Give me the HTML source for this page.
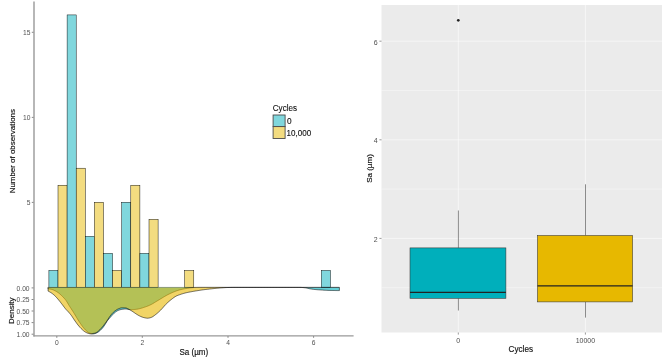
<!DOCTYPE html>
<html><head><meta charset="utf-8"><title>Sa histogram, density and boxplot</title>
<style>
html,body{margin:0;padding:0;background:#fff;}
body{width:667px;height:358px;overflow:hidden;}
svg{display:block;font-family:"Liberation Sans",Arial,sans-serif;}
.bc{fill:#80D7DD;stroke:#000;stroke-width:.45;}
.by{fill:#F3DC80;stroke:#000;stroke-width:.45;}
.dc{fill:#00AFBB;fill-opacity:.6;stroke:#000;stroke-width:.55;stroke-linejoin:round;}
.dy{fill:#E7B800;fill-opacity:.6;stroke:#000;stroke-width:.55;stroke-linejoin:round;}
.kk{stroke:#4a4a4a;stroke-width:.9;}
.ds{fill:none;stroke:#000;stroke-width:.55;stroke-linejoin:round;}
.ax{stroke:#8c8c8c;stroke-width:1.25;fill:none;}
.tk{stroke:#555;stroke-width:.7;}
.tk2{stroke:#555;stroke-width:.6;}
.tl{font-size:6.7px;fill:#505050;}
.tr{font-size:7px;fill:#4d4d4d;}
.ti{font-size:8.2px;fill:#111;stroke:#111;stroke-width:.15;}
.tv{font-size:7.8px;fill:#111;stroke:#111;stroke-width:.15;}
.lg{font-size:8.9px;fill:#111;stroke:#111;stroke-width:.12;}
.gM{stroke:#fff;stroke-width:.55;}
.gm{stroke:#fff;stroke-width:.38;}
.bx{stroke:#333;stroke-width:.55;}
</style></head><body>
<svg width="667" height="358" viewBox="0 0 667 358">
<rect width="667" height="358" fill="#fff"/>
<!-- left: histogram -->
<g>
<rect class="bc" x="48.90" y="270.37" width="9.10" height="17.03"/>
<rect class="by" x="58.00" y="185.22" width="9.10" height="102.18"/>
<rect class="bc" x="67.10" y="14.92" width="9.10" height="272.48"/>
<rect class="by" x="76.20" y="168.19" width="9.10" height="119.21"/>
<rect class="bc" x="85.30" y="236.31" width="9.10" height="51.09"/>
<rect class="by" x="94.40" y="202.25" width="9.10" height="85.15"/>
<rect class="bc" x="103.50" y="253.34" width="9.10" height="34.06"/>
<rect class="by" x="112.60" y="270.37" width="9.10" height="17.03"/>
<rect class="bc" x="121.70" y="202.25" width="9.10" height="85.15"/>
<rect class="by" x="130.80" y="185.22" width="9.10" height="102.18"/>
<rect class="bc" x="139.90" y="253.34" width="9.10" height="34.06"/>
<rect class="by" x="149.00" y="219.28" width="9.10" height="68.12"/>
<rect class="by" x="184.60" y="270.37" width="9.20" height="17.03"/>
<rect class="bc" x="321.30" y="270.37" width="9.20" height="17.03"/>
</g>
<!-- left: density (mirrored) -->
<path class="dc" d="M48.10 287.40L48.10 288.90L48.85 288.93L49.60 289.01L50.35 289.13L51.10 289.26L51.85 289.43L52.60 289.67L53.35 289.98L54.10 290.32L54.85 290.68L55.60 291.05L56.35 291.48L57.10 291.94L57.85 292.44L58.60 292.97L59.35 293.56L60.10 294.20L60.85 294.89L61.60 295.61L62.35 296.35L63.10 297.10L63.85 297.89L64.60 298.73L65.35 299.62L66.10 300.61L66.85 301.74L67.60 302.98L68.35 304.26L69.10 305.52L69.85 306.70L70.60 307.85L71.35 308.99L72.10 310.16L72.85 311.34L73.60 312.55L74.35 313.76L75.10 314.98L75.85 316.23L76.60 317.49L77.35 318.74L78.10 319.96L78.85 321.13L79.60 322.28L80.35 323.42L81.10 324.52L81.85 325.57L82.60 326.56L83.35 327.53L84.10 328.46L84.85 329.34L85.60 330.13L86.35 330.81L87.10 331.45L87.85 332.05L88.60 332.55L89.35 332.94L90.10 333.23L90.85 333.49L91.60 333.71L92.35 333.86L93.10 333.90L93.85 333.83L94.60 333.66L95.35 333.43L96.10 333.17L96.85 332.87L97.60 332.45L98.35 331.93L99.10 331.35L99.85 330.74L100.60 330.08L101.35 329.34L102.10 328.52L102.85 327.63L103.60 326.70L104.35 325.65L105.10 324.46L105.85 323.21L106.60 321.98L107.35 320.84L108.10 319.85L108.85 318.94L109.60 318.07L110.35 317.24L111.10 316.42L111.85 315.59L112.60 314.75L113.35 313.94L114.10 313.19L114.85 312.54L115.60 311.98L116.35 311.45L117.10 310.98L117.85 310.58L118.60 310.26L119.35 310.00L120.10 309.76L120.85 309.55L121.60 309.39L122.35 309.28L123.10 309.19L123.85 309.11L124.60 309.04L125.35 309.01L126.10 309.01L126.85 309.12L127.60 309.30L128.35 309.45L129.10 309.54L129.85 309.61L130.60 309.67L131.35 309.70L132.10 309.68L132.85 309.61L133.60 309.55L134.35 309.49L135.10 309.43L135.85 309.35L136.60 309.26L137.35 309.15L138.10 309.01L138.85 308.85L139.60 308.67L140.35 308.49L141.10 308.29L141.85 308.06L142.60 307.83L143.35 307.58L144.10 307.33L144.85 307.09L145.60 306.83L146.35 306.57L147.10 306.29L147.85 306.00L148.60 305.70L149.35 305.37L150.10 305.03L150.85 304.67L151.60 304.29L152.35 303.87L153.10 303.43L153.85 302.98L154.60 302.51L155.35 302.05L156.10 301.60L156.85 301.15L157.60 300.70L158.35 300.25L159.10 299.80L159.85 299.35L160.60 298.90L161.35 298.45L162.10 297.99L162.85 297.53L163.60 297.07L164.35 296.61L165.10 296.17L165.85 295.74L166.60 295.33L167.35 294.93L168.10 294.54L168.85 294.16L169.60 293.80L170.35 293.44L171.10 293.10L171.85 292.76L172.60 292.43L173.35 292.11L174.10 291.80L174.85 291.50L175.60 291.21L176.35 290.95L177.10 290.69L177.85 290.45L178.60 290.21L179.35 289.99L180.10 289.78L180.85 289.59L181.60 289.41L182.35 289.24L183.10 289.07L183.85 288.92L184.60 288.78L185.35 288.64L186.10 288.52L186.85 288.40L187.60 288.28L188.35 288.16L189.10 288.06L189.85 287.96L190.60 287.87L191.35 287.80L192.10 287.72L192.85 287.65L193.60 287.58L194.35 287.53L195.10 287.48L195.85 287.45L196.60 287.44L197.35 287.43L198.10 287.42L198.85 287.41L199.60 287.40L200.35 287.40L201.10 287.40L201.85 287.40L202.60 287.40L203.35 287.40L204.10 287.40L204.85 287.40L205.60 287.40L206.35 287.40L207.10 287.40L207.85 287.40L208.60 287.40L209.35 287.40L210.10 287.40L210.85 287.40L211.60 287.40L212.35 287.40L213.10 287.40L213.85 287.40L214.60 287.40L215.35 287.40L216.10 287.40L216.85 287.40L217.60 287.40L218.35 287.40L219.10 287.40L219.85 287.40L220.60 287.40L221.35 287.40L222.10 287.40L222.85 287.40L223.60 287.40L224.35 287.40L225.10 287.40L225.85 287.40L226.60 287.40L227.35 287.40L228.10 287.40L228.85 287.40L229.60 287.40L230.35 287.40L231.10 287.40L231.85 287.40L232.60 287.40L233.35 287.40L234.10 287.40L234.85 287.40L235.60 287.40L236.35 287.40L237.10 287.40L237.85 287.40L238.60 287.40L239.35 287.40L240.10 287.40L240.85 287.40L241.60 287.40L242.35 287.40L243.10 287.40L243.85 287.40L244.60 287.40L245.35 287.40L246.10 287.40L246.85 287.40L247.60 287.40L248.35 287.40L249.10 287.40L249.85 287.40L250.60 287.40L251.35 287.40L252.10 287.40L252.85 287.40L253.60 287.40L254.35 287.40L255.10 287.40L255.85 287.40L256.60 287.40L257.35 287.40L258.10 287.40L258.85 287.40L259.60 287.40L260.35 287.40L261.10 287.40L261.85 287.40L262.60 287.40L263.35 287.40L264.10 287.40L264.85 287.40L265.60 287.40L266.35 287.40L267.10 287.40L267.85 287.40L268.60 287.40L269.35 287.40L270.10 287.40L270.85 287.40L271.60 287.40L272.35 287.40L273.10 287.40L273.85 287.40L274.60 287.40L275.35 287.40L276.10 287.40L276.85 287.40L277.60 287.40L278.35 287.40L279.10 287.40L279.85 287.40L280.60 287.40L281.35 287.40L282.10 287.40L282.85 287.40L283.60 287.40L284.35 287.40L285.10 287.40L285.85 287.40L286.60 287.40L287.35 287.40L288.10 287.40L288.85 287.40L289.60 287.40L290.35 287.40L291.10 287.40L291.85 287.40L292.60 287.40L293.35 287.40L294.10 287.40L294.85 287.40L295.60 287.40L296.35 287.40L297.10 287.40L297.85 287.40L298.60 287.40L299.35 287.40L300.10 287.40L300.85 287.42L301.60 287.46L302.35 287.52L303.10 287.59L303.85 287.67L304.60 287.75L305.35 287.84L306.10 287.97L306.85 288.12L307.60 288.29L308.35 288.46L309.10 288.63L309.85 288.77L310.60 288.90L311.35 289.03L312.10 289.15L312.85 289.26L313.60 289.35L314.35 289.44L315.10 289.52L315.85 289.59L316.60 289.66L317.35 289.72L318.10 289.78L318.85 289.84L319.60 289.89L320.35 289.94L321.10 289.99L321.85 290.04L322.60 290.09L323.35 290.14L324.10 290.19L324.85 290.24L325.60 290.28L326.35 290.32L327.10 290.35L327.85 290.38L328.60 290.41L329.35 290.43L330.10 290.45L330.85 290.46L331.60 290.48L332.35 290.49L333.10 290.51L333.85 290.52L334.60 290.53L335.35 290.55L336.10 290.56L336.85 290.57L337.60 290.58L338.35 290.59L339.10 290.60L339.40 290.60L339.40 287.40Z" style="stroke:none"/>
<path class="ds" d="M48.10 287.40L48.10 288.90L48.85 288.93L49.60 289.01L50.35 289.13L51.10 289.26L51.85 289.43L52.60 289.67L53.35 289.98L54.10 290.32L54.85 290.68L55.60 291.05L56.35 291.48L57.10 291.94L57.85 292.44L58.60 292.97L59.35 293.56L60.10 294.20L60.85 294.89L61.60 295.61L62.35 296.35L63.10 297.10L63.85 297.89L64.60 298.73L65.35 299.62L66.10 300.61L66.85 301.74L67.60 302.98L68.35 304.26L69.10 305.52L69.85 306.70L70.60 307.85L71.35 308.99L72.10 310.16L72.85 311.34L73.60 312.55L74.35 313.76L75.10 314.98L75.85 316.23L76.60 317.49L77.35 318.74L78.10 319.96L78.85 321.13L79.60 322.28L80.35 323.42L81.10 324.52L81.85 325.57L82.60 326.56L83.35 327.53L84.10 328.46L84.85 329.34L85.60 330.13L86.35 330.81L87.10 331.45L87.85 332.05L88.60 332.55L89.35 332.94L90.10 333.23L90.85 333.49L91.60 333.71L92.35 333.86L93.10 333.90L93.85 333.83L94.60 333.66L95.35 333.43L96.10 333.17L96.85 332.87L97.60 332.45L98.35 331.93L99.10 331.35L99.85 330.74L100.60 330.08L101.35 329.34L102.10 328.52L102.85 327.63L103.60 326.70L104.35 325.65L105.10 324.46L105.85 323.21L106.60 321.98L107.35 320.84L108.10 319.85L108.85 318.94L109.60 318.07L110.35 317.24L111.10 316.42L111.85 315.59L112.60 314.75L113.35 313.94L114.10 313.19L114.85 312.54L115.60 311.98L116.35 311.45L117.10 310.98L117.85 310.58L118.60 310.26L119.35 310.00L120.10 309.76L120.85 309.55L121.60 309.39L122.35 309.28L123.10 309.19L123.85 309.11L124.60 309.04L125.35 309.01L126.10 309.01L126.85 309.12L127.60 309.30L128.35 309.45L129.10 309.54L129.85 309.61L130.60 309.67L131.35 309.70L132.10 309.68L132.85 309.61L133.60 309.55L134.35 309.49L135.10 309.43L135.85 309.35L136.60 309.26L137.35 309.15L138.10 309.01L138.85 308.85L139.60 308.67L140.35 308.49L141.10 308.29L141.85 308.06L142.60 307.83L143.35 307.58L144.10 307.33L144.85 307.09L145.60 306.83L146.35 306.57L147.10 306.29L147.85 306.00L148.60 305.70L149.35 305.37L150.10 305.03L150.85 304.67L151.60 304.29L152.35 303.87L153.10 303.43L153.85 302.98L154.60 302.51L155.35 302.05L156.10 301.60L156.85 301.15L157.60 300.70L158.35 300.25L159.10 299.80L159.85 299.35L160.60 298.90L161.35 298.45L162.10 297.99L162.85 297.53L163.60 297.07L164.35 296.61L165.10 296.17L165.85 295.74L166.60 295.33L167.35 294.93L168.10 294.54L168.85 294.16L169.60 293.80L170.35 293.44L171.10 293.10L171.85 292.76L172.60 292.43L173.35 292.11L174.10 291.80L174.85 291.50L175.60 291.21L176.35 290.95L177.10 290.69L177.85 290.45L178.60 290.21L179.35 289.99L180.10 289.78L180.85 289.59L181.60 289.41L182.35 289.24L183.10 289.07L183.85 288.92L184.60 288.78L185.35 288.64L186.10 288.52L186.85 288.40L187.60 288.28L188.35 288.16L189.10 288.06L189.85 287.96L190.60 287.87L191.35 287.80L192.10 287.72L192.85 287.65L193.60 287.58L194.35 287.53L195.10 287.48L195.85 287.45L196.60 287.44L197.35 287.43L198.10 287.42L198.85 287.41L199.60 287.40L200.35 287.40L201.10 287.40L201.85 287.40L202.60 287.40L203.35 287.40L204.10 287.40L204.85 287.40L205.60 287.40L206.35 287.40L207.10 287.40L207.85 287.40L208.60 287.40L209.35 287.40L210.10 287.40L210.85 287.40L211.60 287.40L212.35 287.40L213.10 287.40L213.85 287.40L214.60 287.40L215.35 287.40L216.10 287.40L216.85 287.40L217.60 287.40L218.35 287.40L219.10 287.40L219.85 287.40L220.60 287.40L221.35 287.40L222.10 287.40L222.85 287.40L223.60 287.40L224.35 287.40L225.10 287.40L225.85 287.40L226.60 287.40L227.35 287.40L228.10 287.40L228.85 287.40L229.60 287.40L230.35 287.40L231.10 287.40L231.85 287.40L232.60 287.40L233.35 287.40L234.10 287.40L234.85 287.40L235.60 287.40L236.35 287.40L237.10 287.40L237.85 287.40L238.60 287.40L239.35 287.40L240.10 287.40L240.85 287.40L241.60 287.40L242.35 287.40L243.10 287.40L243.85 287.40L244.60 287.40L245.35 287.40L246.10 287.40L246.85 287.40L247.60 287.40L248.35 287.40L249.10 287.40L249.85 287.40L250.60 287.40L251.35 287.40L252.10 287.40L252.85 287.40L253.60 287.40L254.35 287.40L255.10 287.40L255.85 287.40L256.60 287.40L257.35 287.40L258.10 287.40L258.85 287.40L259.60 287.40L260.35 287.40L261.10 287.40L261.85 287.40L262.60 287.40L263.35 287.40L264.10 287.40L264.85 287.40L265.60 287.40L266.35 287.40L267.10 287.40L267.85 287.40L268.60 287.40L269.35 287.40L270.10 287.40L270.85 287.40L271.60 287.40L272.35 287.40L273.10 287.40L273.85 287.40L274.60 287.40L275.35 287.40L276.10 287.40L276.85 287.40L277.60 287.40L278.35 287.40L279.10 287.40L279.85 287.40L280.60 287.40L281.35 287.40L282.10 287.40L282.85 287.40L283.60 287.40L284.35 287.40L285.10 287.40L285.85 287.40L286.60 287.40L287.35 287.40L288.10 287.40L288.85 287.40L289.60 287.40L290.35 287.40L291.10 287.40L291.85 287.40L292.60 287.40L293.35 287.40L294.10 287.40L294.85 287.40L295.60 287.40L296.35 287.40L297.10 287.40L297.85 287.40L298.60 287.40L299.35 287.40L300.10 287.40L300.85 287.42L301.60 287.46L302.35 287.52L303.10 287.59L303.85 287.67L304.60 287.75L305.35 287.84L306.10 287.97L306.85 288.12L307.60 288.29L308.35 288.46L309.10 288.63L309.85 288.77L310.60 288.90L311.35 289.03L312.10 289.15L312.85 289.26L313.60 289.35L314.35 289.44L315.10 289.52L315.85 289.59L316.60 289.66L317.35 289.72L318.10 289.78L318.85 289.84L319.60 289.89L320.35 289.94L321.10 289.99L321.85 290.04L322.60 290.09L323.35 290.14L324.10 290.19L324.85 290.24L325.60 290.28L326.35 290.32L327.10 290.35L327.85 290.38L328.60 290.41L329.35 290.43L330.10 290.45L330.85 290.46L331.60 290.48L332.35 290.49L333.10 290.51L333.85 290.52L334.60 290.53L335.35 290.55L336.10 290.56L336.85 290.57L337.60 290.58L338.35 290.59L339.10 290.60L339.40 290.60L339.40 287.40"/>
<path class="dy" d="M48.10 287.40L48.10 291.10L48.85 291.46L49.60 291.86L50.35 292.30L51.10 292.77L51.85 293.28L52.60 293.83L53.35 294.43L54.10 295.07L54.85 295.75L55.60 296.49L56.35 297.29L57.10 298.15L57.85 299.03L58.60 299.92L59.35 300.83L60.10 301.78L60.85 302.75L61.60 303.72L62.35 304.69L63.10 305.69L63.85 306.71L64.60 307.71L65.35 308.66L66.10 309.54L66.85 310.31L67.60 311.07L68.35 311.89L69.10 312.73L69.85 313.60L70.60 314.52L71.35 315.51L72.10 316.59L72.85 317.73L73.60 318.87L74.35 319.99L75.10 321.05L75.85 322.12L76.60 323.16L77.35 324.17L78.10 325.13L78.85 326.03L79.60 326.90L80.35 327.74L81.10 328.52L81.85 329.25L82.60 329.94L83.35 330.61L84.10 331.23L84.85 331.77L85.60 332.21L86.35 332.60L87.10 332.96L87.85 333.26L88.60 333.50L89.35 333.67L90.10 333.82L90.85 333.90L91.60 333.84L92.35 333.66L93.10 333.48L93.85 333.34L94.60 333.19L95.35 332.98L96.10 332.66L96.85 332.20L97.60 331.66L98.35 331.05L99.10 330.43L99.85 329.73L100.60 328.93L101.35 328.08L102.10 327.19L102.85 326.30L103.60 325.37L104.35 324.40L105.10 323.40L105.85 322.38L106.60 321.33L107.35 320.21L108.10 319.05L108.85 317.88L109.60 316.75L110.35 315.70L111.10 314.76L111.85 313.89L112.60 313.06L113.35 312.30L114.10 311.61L114.85 311.01L115.60 310.45L116.35 309.94L117.10 309.49L117.85 309.10L118.60 308.78L119.35 308.47L120.10 308.18L120.85 307.95L121.60 307.82L122.35 307.80L123.10 307.81L123.85 307.83L124.60 307.85L125.35 307.89L126.10 307.98L126.85 308.26L127.60 308.61L128.35 308.96L129.10 309.37L129.85 309.80L130.60 310.26L131.35 310.73L132.10 311.21L132.85 311.70L133.60 312.20L134.35 312.72L135.10 313.24L135.85 313.76L136.60 314.24L137.35 314.70L138.10 315.15L138.85 315.57L139.60 315.97L140.35 316.32L141.10 316.64L141.85 316.95L142.60 317.23L143.35 317.46L144.10 317.65L144.85 317.82L145.60 317.97L146.35 318.10L147.10 318.18L147.85 318.19L148.60 318.12L149.35 317.97L150.10 317.77L150.85 317.55L151.60 317.28L152.35 316.91L153.10 316.45L153.85 315.92L154.60 315.36L155.35 314.78L156.10 314.20L156.85 313.61L157.60 312.98L158.35 312.31L159.10 311.61L159.85 310.89L160.60 310.15L161.35 309.40L162.10 308.59L162.85 307.74L163.60 306.86L164.35 305.99L165.10 305.15L165.85 304.35L166.60 303.61L167.35 302.90L168.10 302.21L168.85 301.54L169.60 300.90L170.35 300.28L171.10 299.68L171.85 299.09L172.60 298.50L173.35 297.93L174.10 297.39L174.85 296.88L175.60 296.42L176.35 296.03L177.10 295.68L177.85 295.37L178.60 295.09L179.35 294.82L180.10 294.57L180.85 294.31L181.60 294.06L182.35 293.82L183.10 293.59L183.85 293.37L184.60 293.16L185.35 292.96L186.10 292.78L186.85 292.60L187.60 292.44L188.35 292.29L189.10 292.14L189.85 291.99L190.60 291.86L191.35 291.72L192.10 291.58L192.85 291.45L193.60 291.32L194.35 291.19L195.10 291.07L195.85 290.94L196.60 290.82L197.35 290.70L198.10 290.58L198.85 290.47L199.60 290.35L200.35 290.23L201.10 290.11L201.85 290.00L202.60 289.89L203.35 289.79L204.10 289.69L204.85 289.59L205.60 289.50L206.35 289.41L207.10 289.32L207.85 289.24L208.60 289.16L209.35 289.07L210.10 288.99L210.85 288.90L211.60 288.82L212.35 288.73L213.10 288.65L213.85 288.57L214.60 288.49L215.35 288.41L216.10 288.34L216.85 288.27L217.60 288.20L218.35 288.14L219.10 288.07L219.85 288.01L220.60 287.95L221.35 287.90L222.10 287.84L222.85 287.79L223.60 287.74L224.35 287.69L225.10 287.64L225.85 287.59L226.60 287.55L227.35 287.52L228.10 287.50L228.85 287.48L229.60 287.46L230.35 287.44L231.10 287.43L231.85 287.42L232.60 287.41L233.35 287.40L234.10 287.40L234.85 287.40L235.60 287.40L236.35 287.40L237.10 287.40L237.85 287.40L238.60 287.40L239.35 287.40L240.10 287.40L240.85 287.40L241.60 287.40L242.35 287.40L243.10 287.40L243.85 287.40L244.60 287.40L245.35 287.40L246.10 287.40L246.85 287.40L247.60 287.40L248.35 287.40L249.10 287.40L249.85 287.40L250.60 287.40L251.35 287.40L252.10 287.40L252.85 287.40L253.60 287.40L254.35 287.40L255.10 287.40L255.85 287.40L256.60 287.40L257.35 287.40L258.10 287.40L258.85 287.40L259.60 287.40L260.35 287.40L261.10 287.40L261.85 287.40L262.60 287.40L263.35 287.40L264.10 287.40L264.85 287.40L265.60 287.40L266.35 287.40L267.10 287.40L267.85 287.40L268.60 287.40L269.35 287.40L270.10 287.40L270.85 287.40L271.60 287.40L272.35 287.40L273.10 287.40L273.85 287.40L274.60 287.40L275.35 287.40L276.10 287.40L276.85 287.40L277.60 287.40L278.35 287.40L279.10 287.40L279.85 287.40L280.60 287.40L281.35 287.40L282.10 287.40L282.85 287.40L283.60 287.40L284.35 287.40L285.10 287.40L285.85 287.40L286.60 287.40L287.35 287.40L288.10 287.40L288.85 287.40L289.60 287.40L290.35 287.40L291.10 287.40L291.85 287.40L292.60 287.40L293.35 287.40L294.10 287.40L294.85 287.40L295.60 287.40L296.35 287.40L297.10 287.40L297.85 287.40L298.60 287.40L299.35 287.40L300.10 287.40L300.85 287.40L301.60 287.40L302.35 287.40L303.10 287.40L303.85 287.40L304.60 287.40L305.35 287.40L306.10 287.40L306.85 287.40L307.60 287.40L308.35 287.40L309.10 287.40L309.85 287.40L310.60 287.40L311.35 287.40L312.10 287.40L312.85 287.40L313.60 287.40L314.35 287.40L315.10 287.40L315.85 287.40L316.60 287.40L317.35 287.40L318.10 287.40L318.85 287.40L319.60 287.40L320.35 287.40L321.10 287.40L321.85 287.40L322.60 287.40L323.35 287.40L324.10 287.40L324.85 287.40L325.60 287.40L326.35 287.40L327.10 287.40L327.85 287.40L328.60 287.40L329.35 287.40L330.10 287.40L330.85 287.40L331.60 287.40L332.35 287.40L333.10 287.40L333.85 287.40L334.60 287.40L335.35 287.40L336.10 287.40L336.85 287.40L337.60 287.40L338.35 287.40L339.10 287.40L339.40 287.40L339.40 287.40Z" style="stroke:none"/>
<path class="ds" d="M48.10 287.40L48.10 291.10L48.85 291.46L49.60 291.86L50.35 292.30L51.10 292.77L51.85 293.28L52.60 293.83L53.35 294.43L54.10 295.07L54.85 295.75L55.60 296.49L56.35 297.29L57.10 298.15L57.85 299.03L58.60 299.92L59.35 300.83L60.10 301.78L60.85 302.75L61.60 303.72L62.35 304.69L63.10 305.69L63.85 306.71L64.60 307.71L65.35 308.66L66.10 309.54L66.85 310.31L67.60 311.07L68.35 311.89L69.10 312.73L69.85 313.60L70.60 314.52L71.35 315.51L72.10 316.59L72.85 317.73L73.60 318.87L74.35 319.99L75.10 321.05L75.85 322.12L76.60 323.16L77.35 324.17L78.10 325.13L78.85 326.03L79.60 326.90L80.35 327.74L81.10 328.52L81.85 329.25L82.60 329.94L83.35 330.61L84.10 331.23L84.85 331.77L85.60 332.21L86.35 332.60L87.10 332.96L87.85 333.26L88.60 333.50L89.35 333.67L90.10 333.82L90.85 333.90L91.60 333.84L92.35 333.66L93.10 333.48L93.85 333.34L94.60 333.19L95.35 332.98L96.10 332.66L96.85 332.20L97.60 331.66L98.35 331.05L99.10 330.43L99.85 329.73L100.60 328.93L101.35 328.08L102.10 327.19L102.85 326.30L103.60 325.37L104.35 324.40L105.10 323.40L105.85 322.38L106.60 321.33L107.35 320.21L108.10 319.05L108.85 317.88L109.60 316.75L110.35 315.70L111.10 314.76L111.85 313.89L112.60 313.06L113.35 312.30L114.10 311.61L114.85 311.01L115.60 310.45L116.35 309.94L117.10 309.49L117.85 309.10L118.60 308.78L119.35 308.47L120.10 308.18L120.85 307.95L121.60 307.82L122.35 307.80L123.10 307.81L123.85 307.83L124.60 307.85L125.35 307.89L126.10 307.98L126.85 308.26L127.60 308.61L128.35 308.96L129.10 309.37L129.85 309.80L130.60 310.26L131.35 310.73L132.10 311.21L132.85 311.70L133.60 312.20L134.35 312.72L135.10 313.24L135.85 313.76L136.60 314.24L137.35 314.70L138.10 315.15L138.85 315.57L139.60 315.97L140.35 316.32L141.10 316.64L141.85 316.95L142.60 317.23L143.35 317.46L144.10 317.65L144.85 317.82L145.60 317.97L146.35 318.10L147.10 318.18L147.85 318.19L148.60 318.12L149.35 317.97L150.10 317.77L150.85 317.55L151.60 317.28L152.35 316.91L153.10 316.45L153.85 315.92L154.60 315.36L155.35 314.78L156.10 314.20L156.85 313.61L157.60 312.98L158.35 312.31L159.10 311.61L159.85 310.89L160.60 310.15L161.35 309.40L162.10 308.59L162.85 307.74L163.60 306.86L164.35 305.99L165.10 305.15L165.85 304.35L166.60 303.61L167.35 302.90L168.10 302.21L168.85 301.54L169.60 300.90L170.35 300.28L171.10 299.68L171.85 299.09L172.60 298.50L173.35 297.93L174.10 297.39L174.85 296.88L175.60 296.42L176.35 296.03L177.10 295.68L177.85 295.37L178.60 295.09L179.35 294.82L180.10 294.57L180.85 294.31L181.60 294.06L182.35 293.82L183.10 293.59L183.85 293.37L184.60 293.16L185.35 292.96L186.10 292.78L186.85 292.60L187.60 292.44L188.35 292.29L189.10 292.14L189.85 291.99L190.60 291.86L191.35 291.72L192.10 291.58L192.85 291.45L193.60 291.32L194.35 291.19L195.10 291.07L195.85 290.94L196.60 290.82L197.35 290.70L198.10 290.58L198.85 290.47L199.60 290.35L200.35 290.23L201.10 290.11L201.85 290.00L202.60 289.89L203.35 289.79L204.10 289.69L204.85 289.59L205.60 289.50L206.35 289.41L207.10 289.32L207.85 289.24L208.60 289.16L209.35 289.07L210.10 288.99L210.85 288.90L211.60 288.82L212.35 288.73L213.10 288.65L213.85 288.57L214.60 288.49L215.35 288.41L216.10 288.34L216.85 288.27L217.60 288.20L218.35 288.14L219.10 288.07L219.85 288.01L220.60 287.95L221.35 287.90L222.10 287.84L222.85 287.79L223.60 287.74L224.35 287.69L225.10 287.64L225.85 287.59L226.60 287.55L227.35 287.52L228.10 287.50L228.85 287.48L229.60 287.46L230.35 287.44L231.10 287.43L231.85 287.42L232.60 287.41L233.35 287.40L234.10 287.40L234.85 287.40L235.60 287.40L236.35 287.40L237.10 287.40L237.85 287.40L238.60 287.40L239.35 287.40L240.10 287.40L240.85 287.40L241.60 287.40L242.35 287.40L243.10 287.40L243.85 287.40L244.60 287.40L245.35 287.40L246.10 287.40L246.85 287.40L247.60 287.40L248.35 287.40L249.10 287.40L249.85 287.40L250.60 287.40L251.35 287.40L252.10 287.40L252.85 287.40L253.60 287.40L254.35 287.40L255.10 287.40L255.85 287.40L256.60 287.40L257.35 287.40L258.10 287.40L258.85 287.40L259.60 287.40L260.35 287.40L261.10 287.40L261.85 287.40L262.60 287.40L263.35 287.40L264.10 287.40L264.85 287.40L265.60 287.40L266.35 287.40L267.10 287.40L267.85 287.40L268.60 287.40L269.35 287.40L270.10 287.40L270.85 287.40L271.60 287.40L272.35 287.40L273.10 287.40L273.85 287.40L274.60 287.40L275.35 287.40L276.10 287.40L276.85 287.40L277.60 287.40L278.35 287.40L279.10 287.40L279.85 287.40L280.60 287.40L281.35 287.40L282.10 287.40L282.85 287.40L283.60 287.40L284.35 287.40L285.10 287.40L285.85 287.40L286.60 287.40L287.35 287.40L288.10 287.40L288.85 287.40L289.60 287.40L290.35 287.40L291.10 287.40L291.85 287.40L292.60 287.40L293.35 287.40L294.10 287.40L294.85 287.40L295.60 287.40L296.35 287.40L297.10 287.40L297.85 287.40L298.60 287.40L299.35 287.40L300.10 287.40L300.85 287.40L301.60 287.40L302.35 287.40L303.10 287.40L303.85 287.40L304.60 287.40L305.35 287.40L306.10 287.40L306.85 287.40L307.60 287.40L308.35 287.40L309.10 287.40L309.85 287.40L310.60 287.40L311.35 287.40L312.10 287.40L312.85 287.40L313.60 287.40L314.35 287.40L315.10 287.40L315.85 287.40L316.60 287.40L317.35 287.40L318.10 287.40L318.85 287.40L319.60 287.40L320.35 287.40L321.10 287.40L321.85 287.40L322.60 287.40L323.35 287.40L324.10 287.40L324.85 287.40L325.60 287.40L326.35 287.40L327.10 287.40L327.85 287.40L328.60 287.40L329.35 287.40L330.10 287.40L330.85 287.40L331.60 287.40L332.35 287.40L333.10 287.40L333.85 287.40L334.60 287.40L335.35 287.40L336.10 287.40L336.85 287.40L337.60 287.40L338.35 287.40L339.10 287.40L339.40 287.40L339.40 287.40"/>
<line x1="48.1" x2="339.4" y1="287.4" y2="287.4" stroke="#000" stroke-width=".3"/>
<!-- axes left -->
<path class="ax" d="M34 1.4V336.4"/><path d="M33.4 335.85H353.6" stroke="#999" stroke-width="1.45" fill="none"/>
<line class="tk" x1="31.8" x2="33.4" y1="32.3" y2="32.3"/><text class="tl" text-anchor="end" x="30.4" y="34.7">15</text>
<line class="tk" x1="31.8" x2="33.4" y1="117.4" y2="117.4"/><text class="tl" text-anchor="end" x="30.4" y="119.8">10</text>
<line class="tk" x1="31.8" x2="33.4" y1="202.4" y2="202.4"/><text class="tl" text-anchor="end" x="30.4" y="204.8">5</text>
<line class="tk" x1="31.6" x2="33.4" y1="287.9" y2="287.9"/><text class="tl" text-anchor="end" x="29.6" y="290.7">0.00</text>
<line class="tk" x1="31.6" x2="33.4" y1="299.5" y2="299.5"/><text class="tl" text-anchor="end" x="29.6" y="302.3">0.25</text>
<line class="tk" x1="31.6" x2="33.4" y1="311.0" y2="311.0"/><text class="tl" text-anchor="end" x="29.6" y="313.8">0.50</text>
<line class="tk" x1="31.6" x2="33.4" y1="322.6" y2="322.6"/><text class="tl" text-anchor="end" x="29.6" y="325.4">0.75</text>
<line class="tk" x1="31.6" x2="33.4" y1="334.2" y2="334.2"/><text class="tl" text-anchor="end" x="29.6" y="337.0">1.00</text>
<line class="tk" x1="56.8" x2="56.8" y1="336.2" y2="337.8"/><text class="tl" text-anchor="middle" x="56.8" y="345.4">0</text>
<line class="tk" x1="142.3" x2="142.3" y1="336.2" y2="337.8"/><text class="tl" text-anchor="middle" x="142.3" y="345.4">2</text>
<line class="tk" x1="228.0" x2="228.0" y1="336.2" y2="337.8"/><text class="tl" text-anchor="middle" x="228.0" y="345.4">4</text>
<line class="tk" x1="313.6" x2="313.6" y1="336.2" y2="337.8"/><text class="tl" text-anchor="middle" x="313.6" y="345.4">6</text>

<text class="tv" transform="translate(14.5 151.2) rotate(-90)" text-anchor="middle" textLength="84.3" lengthAdjust="spacingAndGlyphs">Number of observations</text>
<text class="tv" transform="translate(13.9 310.7) rotate(-90)" text-anchor="middle" textLength="26.4" lengthAdjust="spacingAndGlyphs">Density</text>
<text class="ti" x="193.8" y="354.9" text-anchor="middle" textLength="28.8" lengthAdjust="spacingAndGlyphs">Sa (µm)</text>
<!-- legend -->
<text class="lg" x="272.8" y="110.7" textLength="24.2" lengthAdjust="spacingAndGlyphs">Cycles</text>
<rect class="bc kk" x="273.1" y="115" width="12" height="11.6"/>
<rect class="by kk" x="273.1" y="126.6" width="12" height="11.9"/>
<text class="lg" x="287" y="123.6" textLength="4.6" lengthAdjust="spacingAndGlyphs">0</text>
<text class="lg" x="286.6" y="136.4" textLength="24.6" lengthAdjust="spacingAndGlyphs">10,000</text>
<!-- right: boxplot -->
<rect x="381.5" y="5.0" width="280.5" height="327.5" fill="#EBEBEB"/>
<line class="gm" x1="381.5" x2="662.0" y1="287.70" y2="287.70"/><line class="gm" x1="381.5" x2="662.0" y1="189.10" y2="189.10"/><line class="gm" x1="381.5" x2="662.0" y1="90.50" y2="90.50"/><line class="gM" x1="381.5" x2="662.0" y1="238.40" y2="238.40"/><line class="gM" x1="381.5" x2="662.0" y1="139.80" y2="139.80"/><line class="gM" x1="381.5" x2="662.0" y1="41.20" y2="41.20"/><line class="gM" x1="458.3" x2="458.3" y1="5.0" y2="332.5"/><line class="gM" x1="585.4" x2="585.4" y1="5.0" y2="332.5"/>
<line class="bx" x1="458.4" x2="458.4" y1="210.5" y2="247.9"/>
<line class="bx" x1="458.4" x2="458.4" y1="298.3" y2="310.5"/>
<rect class="bx" x="410" y="247.9" width="95.9" height="50.4" fill="#00AFBB"/>
<line x1="410" x2="505.9" y1="292.3" y2="292.3" stroke="#222" stroke-width="1.3"/>
<circle cx="458.3" cy="20.3" r="1.35" fill="#222"/>
<line class="bx" x1="585.5" x2="585.5" y1="184.3" y2="235.5"/>
<line class="bx" x1="585.5" x2="585.5" y1="301.9" y2="317.6"/>
<rect class="bx" x="537.5" y="235.5" width="95.1" height="66.4" fill="#E7B800"/>
<line x1="537.5" x2="632.6" y1="285.9" y2="285.9" stroke="#222" stroke-width="1.3"/>
<line class="tk2" x1="379.4" x2="381.5" y1="238.40" y2="238.40"/><text class="tr" text-anchor="end" x="377.6" y="241.70">2</text>
<line class="tk2" x1="379.4" x2="381.5" y1="139.80" y2="139.80"/><text class="tr" text-anchor="end" x="377.6" y="143.10">4</text>
<line class="tk2" x1="379.4" x2="381.5" y1="41.20" y2="41.20"/><text class="tr" text-anchor="end" x="377.6" y="44.50">6</text>
<line class="tk2" x1="458.3" x2="458.3" y1="332.5" y2="334.6"/><text class="tr" text-anchor="middle" x="458.3" y="342.6">0</text>
<line class="tk2" x1="585.4" x2="585.4" y1="332.5" y2="334.6"/><text class="tr" text-anchor="middle" x="585.4" y="342.6">10000</text>

<text class="tv" transform="translate(371.8 168.5) rotate(-90)" text-anchor="middle" textLength="28.6" lengthAdjust="spacingAndGlyphs">Sa (µm)</text>
<text class="ti" x="520.8" y="351.6" text-anchor="middle" textLength="24.4" lengthAdjust="spacingAndGlyphs" font-size="8.2">Cycles</text>
</svg>
</body></html>
